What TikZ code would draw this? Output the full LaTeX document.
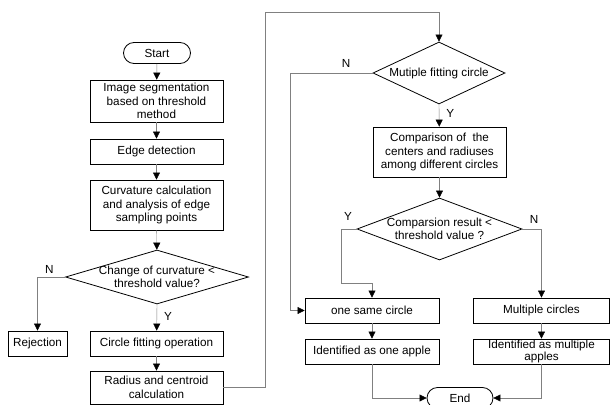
\documentclass[tikz,border=0pt]{standalone}
\usepackage{fontspec}
\setmainfont{Liberation Sans}
\usetikzlibrary{arrows.meta,shapes.geometric}
\tikzset{
  box/.style={draw=black,thick,rectangle,inner sep=0pt,minimum height=25pt,align=center},
  term/.style={draw=black,thick,rectangle,rounded corners=10.5pt,inner sep=0pt,minimum width=67pt,minimum height=21pt},
  dec/.style={draw=black,thick,diamond,inner sep=0pt},
  lnk/.style={draw=gray,-{Triangle[length=7pt,width=7pt,color=black]}},
  yn/.style={inner sep=0pt}
}
\begin{document}
\begin{tikzpicture}[x=1pt,y=-1pt,font=\fontsize{11.7}{13.5}\selectfont]
  \useasboundingbox(0,0)rectangle(610,404);
  % left column
  \node[term](start) at (157,53) {Start};
  \node[box,minimum width=133pt,minimum height=42pt](seg) at (156.5,101) {Image segmentation\\based on threshold\\method};
  \node[box,minimum width=133pt](edge) at (156.5,151.5) {Edge detection};
  \node[box,minimum width=133pt,minimum height=50pt](curv) at (156.5,205) {Curvature calculation\\and analysis of edge\\sampling points};
  \node[dec,minimum width=183pt,minimum height=54pt,label={[align=center]center:{Change of curvature <\\threshold value?}}](dec1) at (157,277) {};
  \node[box,minimum width=59pt](rej) at (37.5,343.5) {Rejection};
  \node[box,minimum width=133pt](fit) at (156.5,343.5) {Circle fitting operation};
  \node[box,minimum width=133pt,minimum height=33pt](rad) at (156.5,387.5) {Radius and centroid\\calculation};
  % right column
  \node[dec,minimum width=132pt,minimum height=62pt,label={center:Mutiple fitting circle}](dec2) at (439,73) {};
  \node[box,minimum width=133pt,minimum height=50pt](comp) at (439.5,152) {Comparison of\ \ the\\centers and radiuses\\among different circles};
  \node[dec,minimum width=165pt,minimum height=62pt,label={[align=center]center:{Comparsion result <\\threshold value ?}}](dec3) at (439.5,229) {};
  \node[box,minimum width=134pt](same) at (372,310.5) {one same circle};
  \node[box,minimum width=136pt](multi) at (541.5,310.5) {Multiple circles};
  \node[box,minimum width=134pt](one) at (372,351.5) {Identified as one apple};
  \node[box,minimum width=136pt,font=\fontsize{11.7}{12.5}\selectfont](mapp) at (541.5,351.5) {Identified as multiple\\apples};
  \node[term,minimum width=66pt](end) at (460,398) {End};
  % connectors
  \coordinate (up) at (265,12);
  \coordinate (nleft) at (290,73);
  \coordinate (yleft) at (341,283);
  \draw[lnk](start)--(seg);
  \draw[lnk](seg)--(edge);
  \draw[lnk](edge)--(curv);
  \draw[lnk](curv)--(dec1);
  \draw[lnk](dec1.south)--(fit) node[yn,pos=0.45,right=7pt]{Y};
  \draw[lnk](dec1.west)-|(rej) node[yn,pos=0.15,above left=3pt]{N};
  \draw[lnk](fit)--(rad);
  \draw[lnk](rad.east)-|(up)-|(dec2.north);
  \draw[lnk](dec2.west)--(nleft)|-(same.west);
  \node[yn](n2) at (346,63) {N};
  \draw[lnk](dec2.south)--(comp) node[yn,pos=0.4,right=7pt]{Y};
  \draw[lnk](comp)--(dec3);
  \draw[lnk](dec3.west)-|(yleft)-|(same.north);
  \node[yn](y3) at (348,216) {Y};
  \draw[lnk](dec3.east)-|(multi.north);
  \node[yn](n3) at (534,219) {N};
  \draw[lnk](same)--(one);
  \draw[lnk](multi)--(mapp);
  \draw[lnk](one.south)|-(end.west);
  \draw[lnk](mapp.south)|-(end.east);
\end{tikzpicture}
\end{document}
